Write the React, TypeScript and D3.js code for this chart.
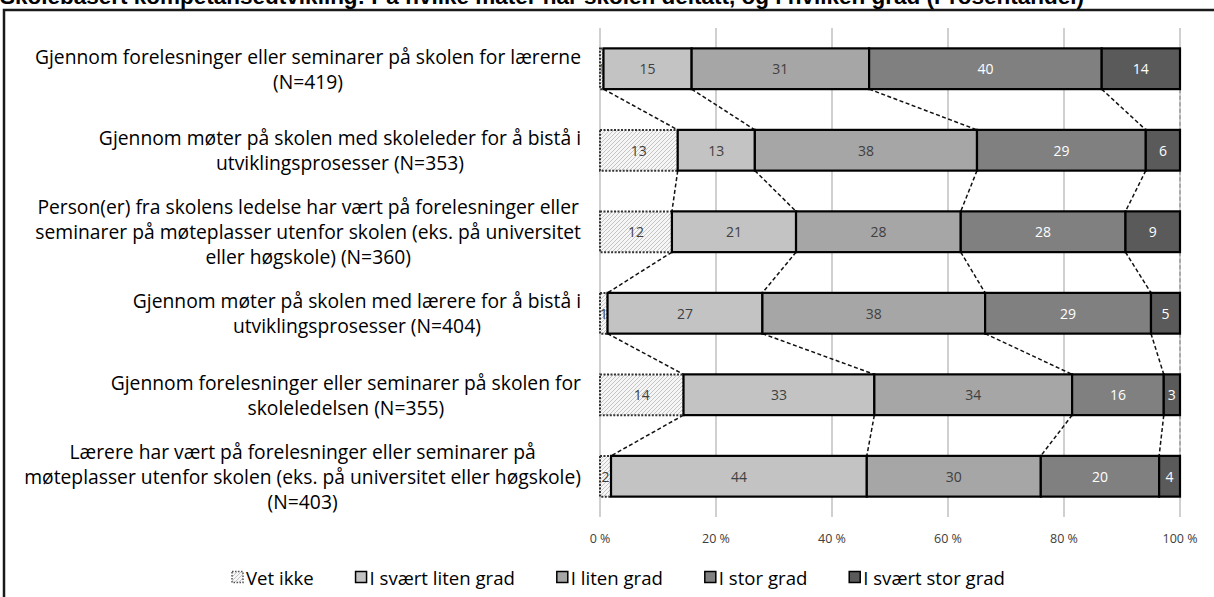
import React, { useEffect, useRef } from "react";
import * as d3 from "d3";

const titleText =
  "Skolebasert kompetanseutvikling: På hvilke måter har skolen deltatt, og i hvilken grad (Prosentandel)";

const categories: string[][] = [
  ["Gjennom forelesninger eller seminarer på skolen for lærerne", "(N=419)"],
  ["Gjennom møter på skolen med skoleleder for å bistå i", "utviklingsprosesser (N=353)"],
  [
    "Person(er) fra skolens ledelse har vært på forelesninger eller",
    "seminarer på møteplasser utenfor skolen (eks. på universitet",
    "eller høgskole) (N=360)",
  ],
  ["Gjennom møter på skolen med lærere for å bistå i", "utviklingsprosesser (N=404)"],
  ["Gjennom forelesninger eller seminarer på skolen for", "skoleledelsen (N=355)"],
  [
    "Lærere har vært på forelesninger eller seminarer på",
    "møteplasser utenfor skolen (eks. på universitet eller høgskole)",
    "(N=403)",
  ],
];

const seriesNames = ["Vet ikke", "I svært liten grad", "I liten grad", "I stor grad", "I svært stor grad"];

const vetIkke = [0.6, 13.4, 12.4, 1.3, 14.4, 1.9];
const svaertLiten = [15.2, 13.3, 21.4, 26.7, 32.9, 44.1];
const liten = [30.6, 38.3, 28.4, 38.4, 34.1, 30.0];
const stor = [40.1, 29.1, 28.4, 28.6, 15.8, 20.4];
const svaertStor = [13.5, 5.9, 9.4, 5.0, 2.8, 3.6];

const tickValues = [0, 20, 40, 60, 80, 100];
const tickLabels = ["0 %", "20 %", "40 %", "60 %", "80 %", "100 %"];

const fills = ["url(#hatch)", "#c3c3c3", "#a6a6a6", "#808080", "#5a5a5a"];
const labelColors = ["#404040", "#404040", "#404040", "#ffffff", "#ffffff"];

const FONT = "'Open Sans', Lato, sans-serif";

export default function App() {
  const ref = useRef<SVGSVGElement | null>(null);

  useEffect(() => {
    const svg = d3.select(ref.current);
    svg.selectAll("*").remove();

    const seriesValues = [vetIkke, svaertLiten, liten, stor, svaertStor];
    const rows = categories.map((_, i) => seriesValues.map((s) => s[i]));
    const cums = rows.map((r) => {
      const c = [0];
      r.forEach((v) => c.push(c[c.length - 1] + v));
      return c;
    });

    const x = d3.scaleLinear().domain([0, 100]).range([600, 1180]);
    const y = d3
      .scaleBand<number>()
      .domain(d3.range(categories.length))
      .range([28, 517])
      .paddingInner(0.5)
      .paddingOuter(0.25);
    const bw = y.bandwidth();

    const defs = svg.append("defs");
    const pat = defs
      .append("pattern")
      .attr("id", "hatch")
      .attr("patternUnits", "userSpaceOnUse")
      .attr("width", 4)
      .attr("height", 4);
    pat.append("rect").attr("width", 4).attr("height", 4).attr("fill", "#f6f6f6");
    pat
      .append("path")
      .attr("d", "M-1,1 l2,-2 M0,4 l4,-4 M3,5 l2,-2")
      .attr("stroke", "#c4c4c4")
      .attr("stroke-width", 1);

    svg.append("rect").attr("width", 1214).attr("height", 597).attr("fill", "#fff");

    // title (cut off at the top edge, as in the reference)
    svg
      .append("text")
      .attr("x", 0)
      .attr("y", 4)
      .attr("font-family", "'Liberation Sans', Arial, sans-serif")
      .attr("font-weight", "bold")
      .attr("font-size", 22.5)
      .attr("fill", "#000")
      .text(titleText);

    // frame
    svg
      .append("rect")
      .attr("x", 4)
      .attr("y", 10)
      .attr("width", 1240)
      .attr("height", 620)
      .attr("fill", "none")
      .attr("stroke", "#1a1a1a")
      .attr("stroke-width", 2.5);

    // gridlines
    svg
      .append("g")
      .selectAll("line")
      .data(tickValues)
      .join("line")
      .attr("x1", (d) => x(d))
      .attr("x2", (d) => x(d))
      .attr("y1", 28)
      .attr("y2", 517)
      .attr("stroke", "#c0c0c0")
      .attr("stroke-width", 1.5);

    // tick labels
    svg
      .append("g")
      .selectAll("text")
      .data(tickValues)
      .join("text")
      .attr("x", (d) => x(d))
      .attr("y", 538)
      .attr("text-anchor", "middle")
      .attr("dominant-baseline", "central")
      .attr("font-family", FONT)
      .attr("font-size", 12.5)
      .attr("fill", "#404040")
      .text((_, i) => tickLabels[i]);

    // series lines
    const sl = svg.append("g");
    for (let i = 0; i < categories.length - 1; i++) {
      for (let k = 1; k <= 5; k++) {
        sl.append("line")
          .attr("x1", x(cums[i][k]))
          .attr("y1", (y(i) as number) + bw)
          .attr("x2", x(cums[i + 1][k]))
          .attr("y2", y(i + 1) as number)
          .attr("stroke", k === 5 ? "#9a9a9a" : "#111")
          .attr("stroke-width", 1.5)
          .attr("stroke-dasharray", "4,2.5");
      }
    }

    // bars
    const bars = svg.append("g");
    rows.forEach((r, i) => {
      r.forEach((v, k) => {
        bars
          .append("rect")
          .attr("x", x(cums[i][k]))
          .attr("y", y(i) as number)
          .attr("width", x(cums[i][k + 1]) - x(cums[i][k]))
          .attr("height", bw)
          .attr("fill", fills[k])
          .attr("stroke", k === 0 ? "#333" : "#000")
          .attr("stroke-width", k === 0 ? 2 : 2.2)
          .attr("stroke-dasharray", k === 0 ? "2,1.5" : null);
      });
    });

    // value labels
    const vl = svg.append("g");
    rows.forEach((r, i) => {
      r.forEach((v, k) => {
        vl.append("text")
          .attr("x", x((cums[i][k] + cums[i][k + 1]) / 2))
          .attr("y", (y(i) as number) + bw / 2)
          .attr("text-anchor", "middle")
          .attr("dominant-baseline", "central")
          .attr("font-family", FONT)
          .attr("font-size", 14)
          .attr("fill", labelColors[k])
          .text(String(Math.round(v)));
      });
    });

    // category labels
    const lh = 24.8;
    const cl = svg.append("g");
    categories.forEach((lines, i) => {
      const g = cl.append("g");
      const yc = (y(i) as number) + bw / 2;
      const ts = lines.map((line, j) =>
        g
          .append("text")
          .attr("y", yc + (j - (lines.length - 1) / 2) * lh)
          .attr("text-anchor", "middle")
          .attr("dominant-baseline", "central")
          .attr("font-family", FONT)
          .attr("font-size", 19.3)
          .attr("fill", "#000")
          .text(line)
      );
      const maxW = d3.max(ts, (t) => (t.node() as SVGTextElement).getComputedTextLength()) || 0;
      ts.forEach((t) => t.attr("x", 581 - maxW / 2));
    });

    // legend
    const lg = svg.append("g");
    const items = seriesNames.map((name, k) => {
      const g = lg.append("g");
      g.append("rect")
        .attr("x", 0)
        .attr("y", -5.5)
        .attr("width", 11)
        .attr("height", 11)
        .attr("fill", fills[k])
        .attr("stroke", k === 0 ? "#555" : "#000")
        .attr("stroke-width", 1.5)
        .attr("stroke-dasharray", k === 0 ? "1.5,1.5" : null);
      const t = g
        .append("text")
        .attr("x", 14)
        .attr("y", 0)
        .attr("dominant-baseline", "central")
        .attr("font-family", FONT)
        .attr("font-size", 18.6)
        .attr("fill", "#000")
        .text(name);
      const w = 14 + (t.node() as SVGTextElement).getComputedTextLength();
      return { g, w };
    });
    const left = 232;
    const right = 1005;
    const gap = Math.max(12, (right - left - d3.sum(items, (d) => d.w)) / (items.length - 1));
    let cx = left;
    items.forEach((it) => {
      it.g.attr("transform", `translate(${cx},577)`);
      cx += it.w + gap;
    });
  }, []);

  return (
    <svg
      ref={ref}
      width={1214}
      height={597}
      style={{ position: "absolute", left: 0, top: 0, display: "block" }}
    />
  );
}
